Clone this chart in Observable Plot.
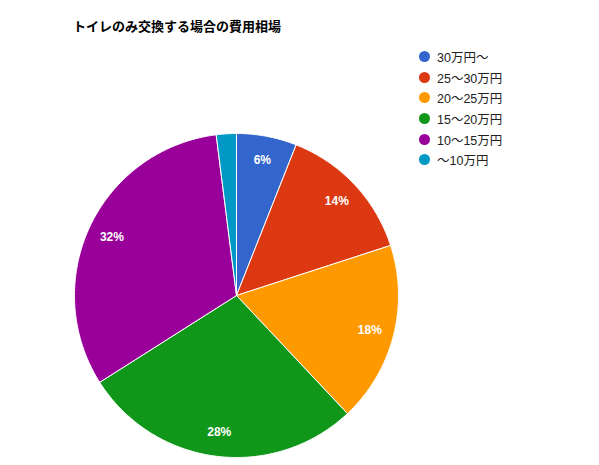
<!DOCTYPE html>
<html><head><meta charset="utf-8">
<script src="https://cdn.jsdelivr.net/npm/d3@7"></script>
<script src="https://cdn.jsdelivr.net/npm/@observablehq/plot@0.6"></script>
<style>
body{margin:0;background:#fff;font-family:"Liberation Sans",Arial,"Noto Sans CJK JP",sans-serif;}
#wrap{position:relative;width:599px;height:465px;overflow:hidden;}
#title{position:absolute;left:73px;top:16px;font-size:13px;font-weight:bold;color:#000;white-space:nowrap;}
#legend{position:absolute;left:419px;top:46px;font-size:12.5px;color:#222;}
.row{height:20.7px;display:flex;align-items:center;white-space:nowrap;}
.sw{width:11px;height:11px;border-radius:50%;margin-right:7px;}
#chart{position:absolute;left:0;top:0;}
</style></head><body>
<div id="wrap"><div id="chart"></div><div id="title">トイレのみ交換する場合の費用相場</div><div id="legend"></div></div>
<script>
const categories = ["30万円〜","25〜30万円","20〜25万円","15〜20万円","10〜15万円","〜10万円"];
const values = [6,14,18,28,32,2];
const colors = ["#3366cc","#dc3912","#ff9900","#109618","#990099","#0099c6"];

const data = categories.map((c,i)=>({cat:c,value:values[i]}));
const arcs = d3.pie().sort(null).value(d=>d.value)(data);
const total = d3.sum(values);
const poly = [];
arcs.forEach(a=>{
  const n = Math.max(2, Math.ceil((a.endAngle-a.startAngle)/(Math.PI/360)));
  poly.push({cat:a.data.cat,x:0,y:0});
  for(let k=0;k<=n;k++){
    const t=a.startAngle+(a.endAngle-a.startAngle)*k/n;
    poly.push({cat:a.data.cat,x:Math.sin(t),y:Math.cos(t)});
  }
  poly.push({cat:a.data.cat,x:0,y:0});
});
const labels = arcs.filter(a=>a.data.value/total>=0.05).map(a=>{
  const m=(a.startAngle+a.endAngle)/2;
  return {x:0.85*Math.sin(m),y:0.85*Math.cos(m),text:Math.round(a.data.value/total*100)+"%"};
});

const chart = Plot.plot({
  width:599,height:465,margin:0,
  x:{domain:[-1,1],range:[74,398],axis:null},
  y:{domain:[-1,1],range:[457,133],axis:null},
  color:{domain:categories,range:colors},
  style:{fontFamily:'"Liberation Sans",Arial,sans-serif',background:"white"},
  marks:[
    Plot.line(poly,{x:"x",y:"y",z:"cat",fill:"cat",stroke:"white",strokeWidth:1,curve:"linear"}),
    Plot.text(labels,{x:"x",y:"y",text:"text",fill:"white",fontSize:12,fontWeight:"bold"})
  ]
});
document.getElementById("chart").appendChild(chart);

const lg=document.getElementById("legend");
categories.forEach((c,i)=>{
  const r=document.createElement("div");r.className="row";
  const s=document.createElement("div");s.className="sw";s.style.background=colors[i];
  const t=document.createElement("span");t.textContent=c;
  r.appendChild(s);r.appendChild(t);lg.appendChild(r);
});
</script>
</body></html>
